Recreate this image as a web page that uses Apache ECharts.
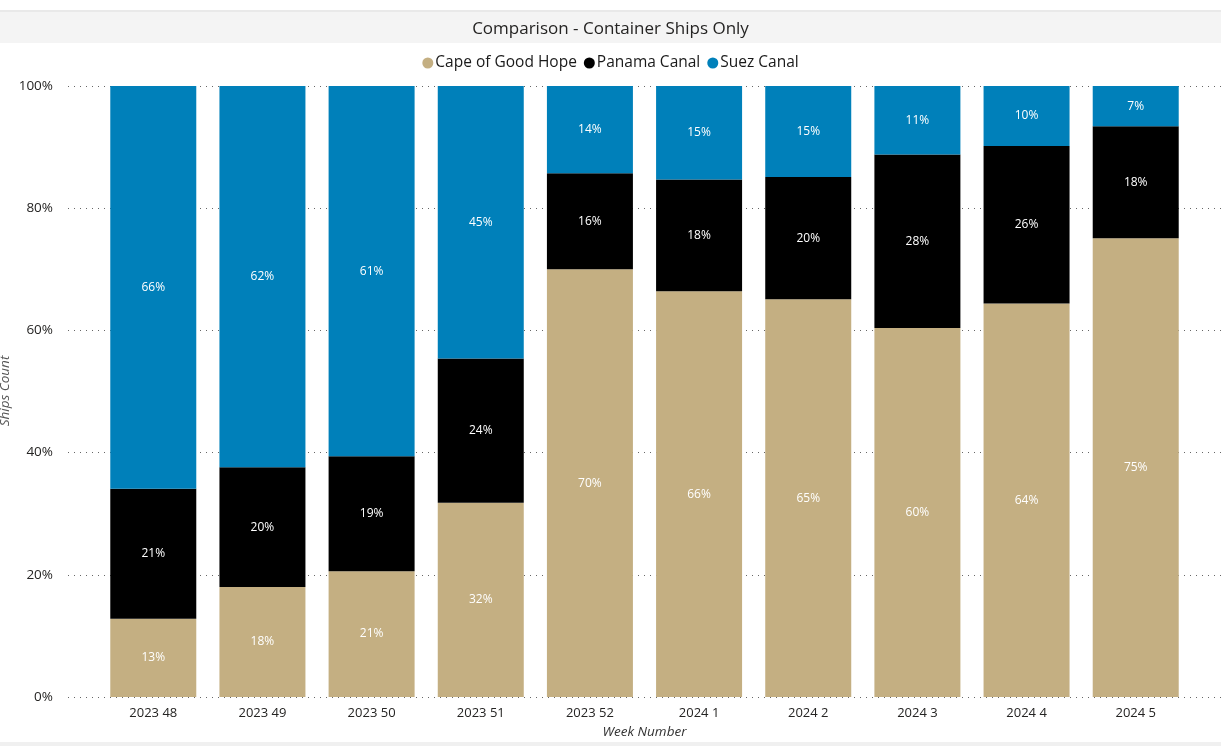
<!DOCTYPE html>
<html>
<head>
<meta charset="utf-8">
<script src="https://cdn.jsdelivr.net/npm/echarts@6/dist/echarts.min.js"></script>
<style>
  html, body { margin: 0; padding: 0; background: #fff; }
  #chart { width: 1221px; height: 746px; }
</style>
</head>
<body>
<div id="chart"></div>
<script>
const weeks = ['2023 48', '2023 49', '2023 50', '2023 51', '2023 52', '2024 1', '2024 2', '2024 3', '2024 4', '2024 5'];
const capeOfGoodHope = [12.8, 18.0, 20.6, 31.8, 70.0, 66.4, 65.1, 60.4, 64.4, 75.1];
const panamaCanal = [21.3, 19.6, 18.8, 23.6, 15.7, 18.3, 20.0, 28.4, 25.8, 18.3];
const suezCanal = [65.9, 62.4, 60.6, 44.6, 14.3, 15.3, 14.9, 11.2, 9.8, 6.6];
const yTicks = [0, 20, 40, 60, 80, 100];

const FONT = '"Open Sans", "Noto Sans", sans-serif';
const chart = echarts.init(document.getElementById('chart'), null, { renderer: 'canvas' });

const labelCfg = {
  show: true,
  position: 'inside',
  color: '#ffffff',
  fontSize: 12,
  fontFamily: FONT,
  formatter: p => Math.round(p.value) + '%'
};

function barSeries(name, data, color) {
  return {
    name: name,
    type: 'bar',
    stack: 'total',
    xAxisIndex: 1,
    yAxisIndex: 1,
    barWidth: 86,
    data: data,
    itemStyle: { color: color },
    label: labelCfg,
    emphasis: { disabled: true }
  };
}

chart.setOption({
  animation: false,
  backgroundColor: '#ffffff',
  graphic: [
    { type: 'rect', shape: { x: 0, y: 10, width: 1221, height: 2 }, style: { fill: '#e9e9e9' }, z: -10 },
    { type: 'rect', shape: { x: 0, y: 12, width: 1221, height: 31 }, style: { fill: '#f4f4f4' }, z: -10 },
    { type: 'rect', shape: { x: 0, y: 742, width: 1221, height: 4 }, style: { fill: '#f0f0f0' }, z: -10 },
    {
      type: 'text', x: 5, y: 391, rotation: Math.PI / 2,
      style: {
        text: 'Ships Count', align: 'center', verticalAlign: 'middle',
        fontFamily: FONT, fontSize: 13.5, fontStyle: 'italic', fill: '#555555'
      }
    }
  ],
  title: {
    text: 'Comparison - Container Ships Only',
    left: 'center',
    top: 16,
    textStyle: { fontFamily: FONT, fontSize: 17, fontWeight: 'normal', color: '#252423' }
  },
  legend: {
    top: 50,
    left: 'center',
    icon: 'circle',
    itemWidth: 11,
    itemHeight: 11,
    itemGap: 7,
    textStyle: { fontFamily: FONT, fontSize: 15.5, color: '#1a1a1a', padding: [0, 0, 0, -3] },
    data: ['Cape of Good Hope', 'Panama Canal', 'Suez Canal']
  },
  grid: [
    { left: 68, right: 0, top: 86, bottom: 49, outerBoundsMode: 'none', containLabel: false },
    { left: 98.7, right: 30.7, top: 86, bottom: 49, outerBoundsMode: 'none', containLabel: false }
  ],
  xAxis: [
    { type: 'value', gridIndex: 0, show: false, min: 0, max: 1 },
    {
      type: 'category',
      gridIndex: 1,
      data: weeks,
      axisLine: { show: false },
      axisTick: { show: false },
      axisLabel: { fontFamily: FONT, fontSize: 13, color: '#252423', margin: 10 },
      name: 'Week Number',
      nameLocation: 'middle',
      nameGap: 28,
      nameTextStyle: { fontFamily: FONT, fontSize: 13.5, fontStyle: 'italic', color: '#333333' }
    }
  ],
  yAxis: [
    {
      type: 'value',
      gridIndex: 0,
      min: 0,
      max: 100,
      interval: 20,
      axisLine: { show: false },
      axisTick: { show: false },
      axisLabel: {
        fontFamily: FONT, fontSize: 13.5, color: '#252423', margin: 15,
        formatter: v => yTicks.includes(v) ? v + '%' : ''
      },
      splitLine: { show: true, lineStyle: { type: [1, 5], color: '#666666', width: 1 } }
    },
    { type: 'value', gridIndex: 1, min: 0, max: 100, show: false }
  ],
  series: [
    barSeries('Cape of Good Hope', capeOfGoodHope, '#C4AF82'),
    barSeries('Panama Canal', panamaCanal, '#000000'),
    barSeries('Suez Canal', suezCanal, '#0080BA')
  ]
});
</script>
</body>
</html>
